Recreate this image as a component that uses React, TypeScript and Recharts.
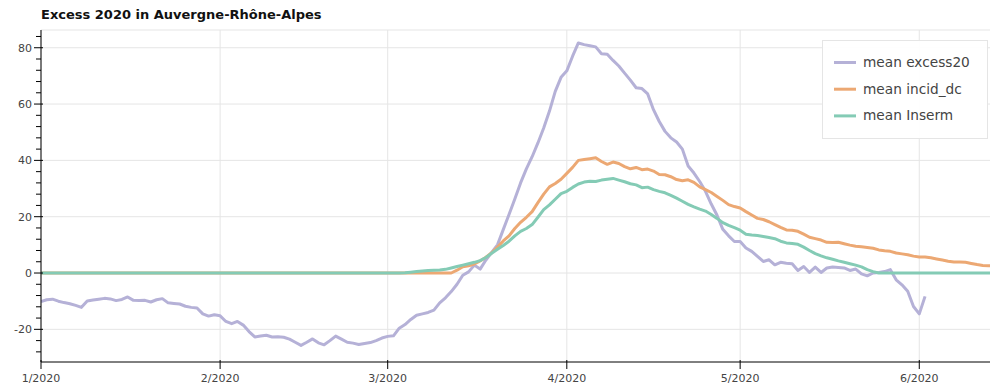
import React from 'react';
import { LineChart, Line, XAxis, YAxis, CartesianGrid, Legend } from 'recharts';

// ---- categories / ticks ----
const monthTicks = [0, 31, 60, 91, 121, 152];
const monthLabels = ['1/2020', '2/2020', '3/2020', '4/2020', '5/2020', '6/2020'];
const yMajorTicks = [-20, 0, 20, 40, 60, 80];
const yMinorTicks = [-28, -24, -16, -12, -8, -4, 4, 8, 12, 16, 24, 28, 32, 36, 44, 48, 52, 56, 64, 68, 72, 76, 84];
const xDomain = [0, 164.24];
const yDomain = [-31.6, 86.3];

const seriesNames = ['mean excess20', 'mean incid_dc', 'mean Inserm'];
const seriesColors = ['#b5b1d7', '#eca873', '#84cbb5'];

// ---- series values (one per day from 1 Jan 2020) ----
const excess20 = [
  -10.1, -9.5, -9.3, -10.0, -10.5, -10.9, -11.5, -12.2, -9.9, -9.6,
  -9.3, -9.0, -9.2, -9.8, -9.4, -8.5, -9.7, -9.8, -9.7, -10.3,
  -9.5, -9.1, -10.6, -10.8, -11.0, -11.8, -12.2, -12.4, -14.5, -15.3,
  -14.8, -15.2, -17.2, -18.0, -17.2, -18.5, -20.8, -22.7, -22.4, -22.1,
  -22.7, -22.6, -22.8, -23.5, -24.6, -25.7, -24.6, -23.4, -24.8, -25.5,
  -24.0, -22.4, -23.5, -24.6, -24.9, -25.4, -25.0, -24.7, -24.0, -23.1,
  -22.5, -22.3, -19.6, -18.3, -16.5, -15.0, -14.5, -14.0, -13.2, -10.6,
  -8.8, -6.6, -4.0, -0.8, 0.4, 2.8, 1.4, 4.6, 7.3, 10.0,
  15.4, 20.8, 26.3, 32.0, 37.0, 41.3, 46.2, 51.5, 57.5, 64.5,
  69.5, 71.8, 77.0, 81.7, 81.1, 80.7, 80.3, 77.9, 77.7, 75.5,
  73.5, 71.0, 68.5, 65.8, 65.5, 63.6, 58.0, 53.8, 50.3, 48.0,
  46.5, 44.0, 38.0, 35.5, 32.5, 29.0, 24.5, 20.5, 15.5, 13.2,
  11.2, 11.2, 8.9, 7.7, 5.9, 4.1, 4.7, 2.9, 3.8, 3.5,
  3.3, 0.9, 2.3, 0.2, 2.1, 0.2, 1.8, 2.1, 2.0, 1.8,
  0.9, 1.4, -0.3, -1.0, 0.0, 0.2, 0.5, 1.2, -2.4, -4.2,
  -6.5, -11.9, -14.5, -8.3,
];

const incidDc = [
  0, 0, 0, 0, 0, 0, 0, 0, 0, 0,
  0, 0, 0, 0, 0, 0, 0, 0, 0, 0,
  0, 0, 0, 0, 0, 0, 0, 0, 0, 0,
  0, 0, 0, 0, 0, 0, 0, 0, 0, 0,
  0, 0, 0, 0, 0, 0, 0, 0, 0, 0,
  0, 0, 0, 0, 0, 0, 0, 0, 0, 0,
  0, 0, 0, 0, 0, 0, 0, 0, 0, 0,
  0, 0, 1.0, 2.2, 2.6, 3.2, 4.3, 5.6, 7.2, 9.2,
  11.4, 13.2, 15.8, 18.0, 19.8, 21.8, 25.0, 28.0, 30.6, 31.8,
  33.3, 35.4, 37.5, 40.0, 40.3, 40.6, 40.9, 39.6, 38.6, 39.4,
  38.9, 37.8, 37.0, 37.5, 36.7, 36.9, 36.2, 35.0, 34.9, 34.2,
  33.2, 32.8, 33.1, 32.2, 30.6, 29.6, 28.6, 27.2, 25.8, 24.3,
  23.6, 23.1, 21.8, 20.6, 19.4, 19.0, 18.2, 17.2, 16.2, 15.3,
  15.2, 14.8, 13.8, 12.7, 12.2, 11.7, 10.9, 10.8, 10.9, 10.4,
  9.9, 9.5, 9.3, 9.1, 8.8, 8.2, 7.9, 7.7, 7.1, 6.8,
  6.5, 6.0, 5.7, 5.7, 5.4, 5.0, 4.6, 4.2, 3.9, 3.9,
  3.8, 3.4, 3.0, 2.7, 2.6, 2.5,
];

const inserm = [
  0, 0, 0, 0, 0, 0, 0, 0, 0, 0,
  0, 0, 0, 0, 0, 0, 0, 0, 0, 0,
  0, 0, 0, 0, 0, 0, 0, 0, 0, 0,
  0, 0, 0, 0, 0, 0, 0, 0, 0, 0,
  0, 0, 0, 0, 0, 0, 0, 0, 0, 0,
  0, 0, 0, 0, 0, 0, 0, 0, 0, 0,
  0, 0, 0, 0.1, 0.3, 0.5, 0.7, 0.9, 1.0, 1.1,
  1.3, 1.8, 2.3, 2.8, 3.3, 3.8, 4.4, 5.5, 7.0, 8.4,
  9.8, 11.3, 13.2, 14.8, 15.8, 17.2, 19.8, 22.5, 24.2, 26.2,
  28.2, 29.0, 30.4, 31.6, 32.3, 32.6, 32.5, 33.0, 33.3, 33.6,
  33.0, 32.4, 31.7, 31.3, 30.3, 30.5, 29.6, 29.0, 28.5, 27.6,
  26.6, 25.5, 24.4, 23.5, 22.7, 22.0, 20.8, 19.4, 17.9, 16.9,
  16.1, 15.2, 13.8, 13.5, 13.3, 13.0, 12.6, 12.2, 11.3, 10.7,
  10.5, 10.2, 9.2, 8.0, 6.9, 6.1, 5.4, 4.9, 4.3, 3.8,
  3.3, 2.8, 2.2, 1.2, 0.5, 0, 0, 0, 0, 0,
  0, 0, 0, 0, 0, 0, 0, 0, 0, 0,
  0, 0, 0, 0, 0, 0,
];

const data = incidDc.map((v, i) => ({
  day: i,
  excess: i < excess20.length ? excess20[i] : null,
  incid: v,
  inserm: inserm[i],
}));

const FONT = '"DejaVu Sans", sans-serif';

const YTick = (props: any) => {
  const { x, y, payload } = props;
  const v = payload.value;
  const major = yMajorTicks.includes(v);
  return (
    <g>
      <line x1={x - (major ? 7 : 5)} x2={x + (major ? 2 : 0)} y1={y} y2={y} stroke="#000" strokeWidth={1} />
      {major && (
        <text x={x - 9} y={y} dy={4} textAnchor="end" fontSize={11} fill="#444" fontFamily={FONT}>
          {String(v)}
        </text>
      )}
    </g>
  );
};

const XTick = (props: any) => {
  const { x, y, payload } = props;
  const idx = monthTicks.indexOf(payload.value);
  return (
    <g>
      <line x1={x} x2={x} y1={y - 2} y2={y + 7} stroke="#000" strokeWidth={1} />
      <text x={x} y={y + 20} textAnchor="middle" fontSize={11} fill="#444" fontFamily={FONT}>
        {monthLabels[idx]}
      </text>
    </g>
  );
};

const LegendBox = (props: any) => {
  const payload = [...(props.payload || [])].sort(
    (a: any, b: any) => seriesNames.indexOf(a.value) - seriesNames.indexOf(b.value)
  );
  return (
    <svg width={166} height={99} style={{ display: 'block' }}>
      <rect x={0.5} y={0.5} width={165} height={98} fill="#fff" fillOpacity={0.95} stroke="#e5e5e5" />
      {payload.map((p: any, i: number) => {
        const cy = 22.5 + i * 26.7;
        return (
          <g key={i}>
            <line x1={12} x2={34} y1={cy} y2={cy} stroke={p.color} strokeWidth={3} />
            <text x={41} y={cy + 4.5} fontSize={13.7} fill="#444" fontFamily={FONT}>
              {p.value}
            </text>
          </g>
        );
      })}
    </svg>
  );
};

export default function App() {
  return (
    <div style={{ position: 'absolute', left: 0, top: 0, width: 990, height: 388, background: '#fff', fontFamily: FONT }}>
      <div
        style={{
          position: 'absolute',
          left: 41,
          top: 7,
          fontSize: 13,
          lineHeight: '15px',
          fontWeight: 'bold',
          color: '#111',
          fontFamily: FONT,
          whiteSpace: 'nowrap',
        }}
      >
        Excess 2020 in Auvergne-Rhône-Alpes
      </div>
      <LineChart width={990} height={388} data={data} margin={{ top: 30, right: 0, bottom: 0, left: 0 }}>
        <CartesianGrid
          stroke="#e5e5e5"
          strokeWidth={1}
          horizontalValues={[...yMajorTicks, yDomain[1]]}
          verticalValues={monthTicks}
        />
        <XAxis
          dataKey="day"
          type="number"
          domain={xDomain}
          allowDataOverflow
          ticks={monthTicks}
          interval={0}
          height={26}
          tickSize={0}
          tickMargin={0}
          tick={<XTick />}
          axisLine={{ stroke: '#000' }}
        />
        <YAxis
          type="number"
          domain={yDomain}
          allowDataOverflow
          ticks={[...yMinorTicks, ...yMajorTicks].sort((a, b) => a - b)}
          interval={0}
          width={41}
          tickSize={0}
          tickMargin={0}
          tick={<YTick />}
          axisLine={{ stroke: '#000' }}
        />
        <Legend
          layout="vertical"
          align="center"
          verticalAlign="middle"
          content={<LegendBox />}
          wrapperStyle={{ left: 822, top: 40, width: 166, height: 99 }}
        />
        <Line
          type="linear"
          dataKey="excess"
          name={seriesNames[0]}
          stroke={seriesColors[0]}
          strokeWidth={3}
          dot={false}
          activeDot={false}
          isAnimationActive={false}
          strokeLinejoin="round"
        />
        <Line
          type="linear"
          dataKey="incid"
          name={seriesNames[1]}
          stroke={seriesColors[1]}
          strokeWidth={3}
          dot={false}
          activeDot={false}
          isAnimationActive={false}
          strokeLinejoin="round"
        />
        <Line
          type="linear"
          dataKey="inserm"
          name={seriesNames[2]}
          stroke={seriesColors[2]}
          strokeWidth={3}
          dot={false}
          activeDot={false}
          isAnimationActive={false}
          strokeLinejoin="round"
        />
      </LineChart>
    </div>
  );
}
